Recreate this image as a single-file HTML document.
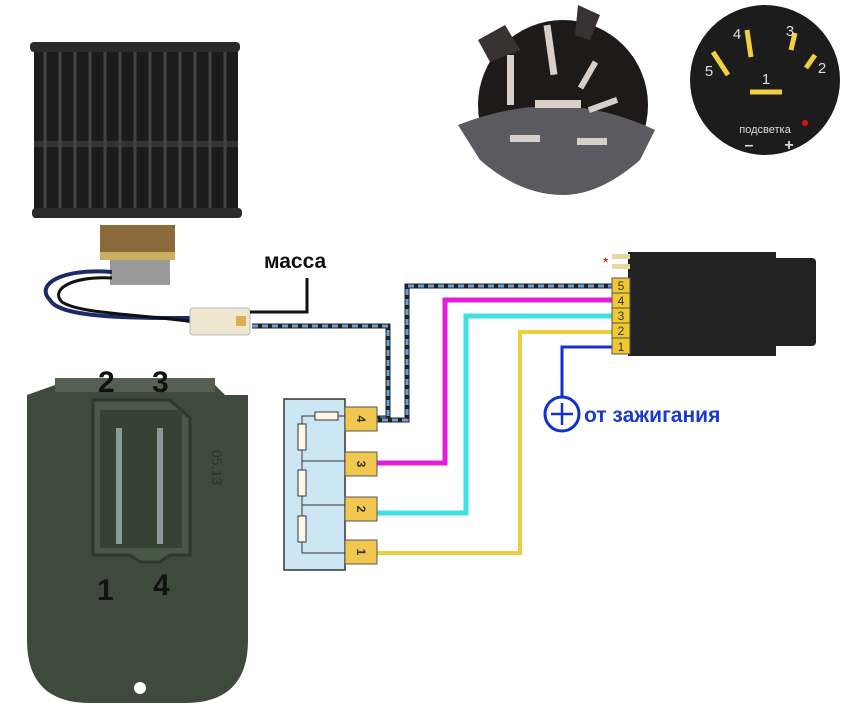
<!DOCTYPE html>
<html><head><meta charset="utf-8"><style>
html,body{margin:0;padding:0;background:#fff;width:849px;height:722px;overflow:hidden}
svg{display:block}
text{font-family:"Liberation Sans",sans-serif}
</style></head><body>
<svg width="849" height="722" viewBox="0 0 849 722" xmlns="http://www.w3.org/2000/svg">
<defs>
<pattern id="dash" width="10" height="10" patternUnits="userSpaceOnUse"></pattern>
</defs>
<!-- Fan -->
<rect x="34" y="44" width="204" height="174" fill="#1b1b1b"/>
<rect x="30" y="42" width="210" height="10" rx="4" fill="#2a2a2a"/>
<rect x="32" y="208" width="210" height="10" rx="4" fill="#2a2a2a"/>
<rect x="34" y="141" width="204" height="6" fill="#333"/>
<g stroke="#444" stroke-width="3">
<line x1="45" y1="52" x2="45" y2="208"/><line x1="60" y1="52" x2="60" y2="208"/><line x1="75" y1="52" x2="75" y2="208"/>
<line x1="90" y1="52" x2="90" y2="208"/><line x1="105" y1="52" x2="105" y2="208"/><line x1="120" y1="52" x2="120" y2="208"/>
<line x1="135" y1="52" x2="135" y2="208"/><line x1="150" y1="52" x2="150" y2="208"/><line x1="165" y1="52" x2="165" y2="208"/>
<line x1="180" y1="52" x2="180" y2="208"/><line x1="195" y1="52" x2="195" y2="208"/><line x1="210" y1="52" x2="210" y2="208"/><line x1="225" y1="52" x2="225" y2="208"/>
</g>
<!-- motor -->
<rect x="100" y="225" width="75" height="35" fill="#8a6a3a"/>
<rect x="100" y="252" width="75" height="8" fill="#c9b060"/>
<rect x="110" y="260" width="60" height="25" fill="#9a9a9a"/>
<path d="M112 272 C60 268,35 285,50 300 C60 318,130 318,195 318" stroke="#1a2a6a" stroke-width="4" fill="none"/>
<path d="M112 278 C70 276,50 290,62 302 C80 314,140 314,195 322" stroke="#111" stroke-width="3" fill="none"/>
<rect x="190" y="308" width="60" height="27" rx="3" fill="#efe6d0" stroke="#bbb"/>
<rect x="236" y="316" width="10" height="10" fill="#d9b050"/>
<!-- масса -->
<text x="264" y="268" font-size="21" font-weight="bold" fill="#111">масса</text>
<polyline points="307,278 307,312 250,312" fill="none" stroke="#111" stroke-width="3"/>
<!-- dashed wires -->
<g fill="none" stroke-width="5">
<polyline points="252,326 388,326 388,418 372,418" stroke="#222"/>
<polyline points="252,326 388,326 388,418 372,418" stroke="#6aa0d8" stroke-width="3" stroke-dasharray="6 4"/>
<polyline points="372,420 407,420 407,286 612,286" stroke="#222"/>
<polyline points="372,420 407,420 407,286 612,286" stroke="#6aa0d8" stroke-width="3" stroke-dasharray="6 4"/>
<polyline points="376,463 445,463 445,300 612,300" stroke="#e020d8"/>
<polyline points="376,513 466,513 466,316 612,316" stroke="#40e0e0"/>
<polyline points="376,553 520,553 520,332 612,332" stroke="#f0cc40" stroke-width="4"/>
<polyline points="612,347 562,347 562,397" stroke="#1030d0" stroke-width="3"/>
</g>
<circle cx="562" cy="414" r="17" fill="#fff" stroke="#1030d0" stroke-width="3"/>
<line x1="551" y1="414" x2="573" y2="414" stroke="#1030d0" stroke-width="2.5"/>
<line x1="562" y1="403" x2="562" y2="425" stroke="#1030d0" stroke-width="2.5"/>
<text x="584" y="422" font-size="21" font-weight="bold" fill="#1a3ad0">от зажигания</text>
<!-- right connector -->
<rect x="628" y="252" width="148" height="104" fill="#222"/>
<rect x="770" y="258" width="46" height="88" rx="4" fill="#222"/>
<rect x="612" y="254" width="18" height="5" fill="#e8d8a0"/><rect x="612" y="264" width="18" height="5" fill="#e8d8a0"/>
<text x="603" y="267" font-size="14" fill="#c00">*</text>
<g fill="#f0c830" stroke="#555" stroke-width="1">
<rect x="612" y="278" width="18" height="15"/><rect x="612" y="293" width="18" height="15"/><rect x="612" y="308" width="18" height="15"/><rect x="612" y="323" width="18" height="15"/><rect x="612" y="338" width="18" height="16"/>
</g>
<g font-size="12" fill="#333" text-anchor="middle">
<text x="621" y="290">5</text><text x="621" y="305">4</text><text x="621" y="320">3</text><text x="621" y="335">2</text><text x="621" y="351">1</text>
</g>
<!-- resistor block -->
<rect x="284" y="399" width="61" height="171" fill="#cce6f4" stroke="#333" stroke-width="1.5"/>
<g fill="#f0c850" stroke="#555">
<rect x="345" y="407" width="32" height="24"/><rect x="345" y="452" width="32" height="24"/><rect x="345" y="497" width="32" height="24"/><rect x="345" y="540" width="32" height="24"/>
</g>
<g font-size="12" font-weight="bold" fill="#333" text-anchor="middle">
<text x="361" y="423" transform="rotate(90 361 419)">4</text>
<text x="361" y="468" transform="rotate(90 361 464)">3</text>
<text x="361" y="513" transform="rotate(90 361 509)">2</text>
<text x="361" y="556" transform="rotate(90 361 552)">1</text>
</g>
<g stroke="#333" stroke-width="1" fill="none">
<polyline points="315,416 302,416 302,553 345,553"/>
<line x1="302" y1="461" x2="345" y2="461"/><line x1="302" y1="505" x2="345" y2="505"/>
<line x1="338" y1="416" x2="345" y2="416"/>
</g>
<g fill="#fff8e8" stroke="#333">
<rect x="315" y="412" width="23" height="8"/>
<rect x="298" y="424" width="8" height="26"/><rect x="298" y="470" width="8" height="26"/><rect x="298" y="516" width="8" height="26"/>
</g>
<!-- resistor photo -->
<path d="M55 385 L215 385 L225 395 L248 395 L248 640 Q248 703 185 703 L90 703 Q27 703 27 640 L27 395 Z" fill="#3d4a3c"/>
<rect x="55" y="378" width="160" height="14" fill="#566050"/>
<path d="M93 400 L170 400 L190 418 L190 555 L170 555 L160 562 L140 562 L130 555 L93 555 Z" fill="#4a5848" stroke="#2d382c" stroke-width="3"/>
<rect x="100" y="410" width="82" height="138" fill="#364234"/>
<rect x="116" y="428" width="6" height="116" fill="#8a9a96"/><rect x="157" y="428" width="6" height="116" fill="#8a9a96"/>
<circle cx="140" cy="688" r="6" fill="#fff"/>
<text x="212" y="450" font-size="14" fill="#2c362b" transform="rotate(90 212 450)">05.13</text>
<g font-size="30" font-weight="bold" fill="#111">
<text x="98" y="392">2</text><text x="152" y="392">3</text><text x="97" y="600">1</text><text x="153" y="595">4</text>
</g>
<!-- switch -->
<circle cx="563" cy="105" r="85" fill="#1e1a1a"/>
<path d="M458 125 Q560 85 655 130 L640 160 Q600 195 563 195 Q520 195 480 160 Z" fill="#5a5a60"/>
<path d="M478 40 L505 25 L520 50 L490 62 Z" fill="#3a3232"/>
<path d="M578 5 L600 15 L590 40 L575 35 Z" fill="#3a3232"/>
<g fill="#d8d0c8">
<rect x="507" y="55" width="7" height="50"/><rect x="547" y="25" width="7" height="50" transform="rotate(-8 550 50)"/>
<rect x="535" y="100" width="46" height="8"/><rect x="585" y="60" width="6" height="30" transform="rotate(30 588 75)"/>
<rect x="600" y="90" width="6" height="30" transform="rotate(70 603 105)"/>
<rect x="510" y="135" width="30" height="7"/><rect x="577" y="138" width="30" height="7"/>
</g>
<!-- dial -->
<circle cx="765" cy="80" r="75" fill="#1c1c1c"/>
<g stroke="#f0d040" stroke-width="5">
<line x1="713" y1="52" x2="728" y2="75"/><line x1="747" y1="30" x2="751" y2="57"/><line x1="795" y1="33" x2="791" y2="50"/>
<line x1="815" y1="55" x2="806" y2="68"/><line x1="750" y1="92" x2="782" y2="92"/>
</g>
<g fill="#ddd" font-size="15" text-anchor="middle">
<text x="709" y="76">5</text><text x="737" y="39">4</text><text x="790" y="36">3</text><text x="822" y="73">2</text><text x="766" y="84">1</text>
<text x="765" y="133" font-size="11">подсветка</text>
<text x="749" y="150" font-size="16" font-weight="bold">–</text><text x="789" y="150" font-size="16" font-weight="bold">+</text>
</g>
<circle cx="805" cy="123" r="3" fill="#e01010"/>
</svg>
</body></html>
